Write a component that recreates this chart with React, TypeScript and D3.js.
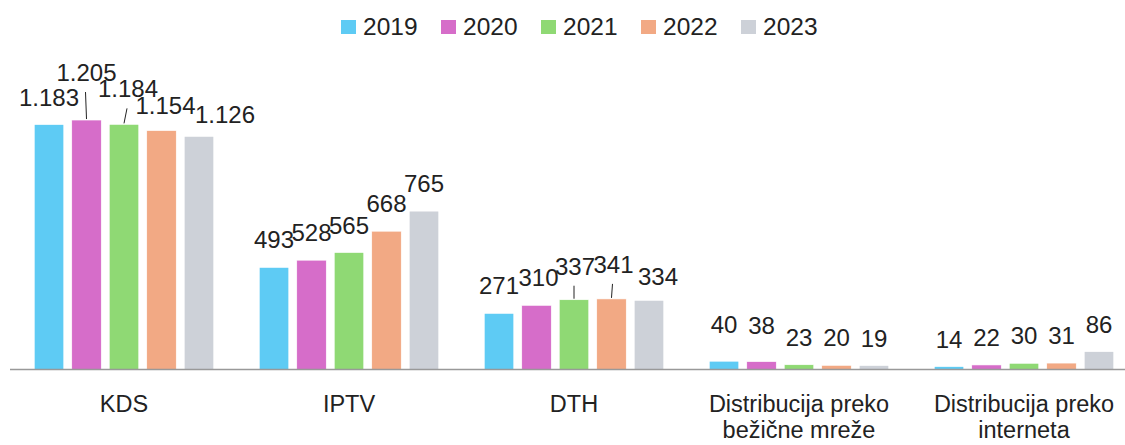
import React from 'react'
import * as d3 from 'd3'

const categories = [
  ['KDS'],
  ['IPTV'],
  ['DTH'],
  ['Distribucija preko', 'bežične mreže'],
  ['Distribucija preko', 'interneta'],
]
const years = ['2019', '2020', '2021', '2022', '2023']
const colors = ['#5ecbf4', '#d66dc9', '#8fd974', '#f2a984', '#cdd1d8']

// values per year, one entry per category
const v2019 = [1183, 493, 271, 40, 14]
const v2020 = [1205, 528, 310, 38, 22]
const v2021 = [1184, 565, 337, 23, 30]
const v2022 = [1154, 668, 341, 20, 31]
const v2023 = [1126, 765, 334, 19, 86]
const series = [v2019, v2020, v2021, v2022, v2023]

// label nudges [category][year] -> [dx, dy, leader]
const nudges: [number, number, boolean][][] = [
  [[0, 0, false], [0, -20, true], [4, -8, true], [4, 2, false], [26, 6, false]],
  [[0, 0, false], [0, 0, false], [0, 0, false], [0, 0, false], [0, 0, false]],
  [[0, 0, false], [2, 0, false], [1, -6, true], [2, -7, true], [9, 4, false]],
  [[0, -9, false], [0, -9, false], [0, 0, false], [0, 0, false], [0, 0, false]],
  [[0, 0, false], [0, 0, false], [0, 0, false], [0, 0, false], [0, 0, false]],
]

const fmt = (v: number) => (v >= 1000 ? d3.format(',')(v).replace(',', '.') : String(v))

export default function App() {
  const W = 1125
  const H = 445
  const base = 369.5
  const font = '"Liberation Sans", Arial, sans-serif'

  const x0 = d3.scaleBand<number>().domain(d3.range(categories.length)).range([11.5, 1136.5])
  const x1 = d3.scaleBand<number>().domain(d3.range(years.length)).range([0, x0.bandwidth()])
    .paddingInner(0.213).paddingOuter(0.607)
  const y = d3.scaleLinear().domain([0, 1210]).range([base, 119])

  return (
    <svg width={W} height={H} style={{ position: 'absolute', left: 0, top: 0 }} fontFamily={font}>
      <rect width={W} height={H} fill="#fff" />
      {/* legend */}
      {years.map((yr, i) => (
        <g key={yr} transform={`translate(${341 + i * 100},0)`}>
          <rect x={0} y={20} width={15} height={14} fill={colors[i]} />
          <text x={22} y={35} fontSize={24.5} fill="#222">{yr}</text>
        </g>
      ))}
      {/* bars */}
      {categories.map((_, ci) => (
        <g key={ci} transform={`translate(${x0(ci)},0)`}>
          {series.map((s, si) => (
            <rect key={si} x={x1(si)} y={y(s[ci])} width={x1.bandwidth()} height={base - y(s[ci])}
              fill={colors[si]} stroke="#fff" strokeWidth={0.6} />
          ))}
        </g>
      ))}
      <line x1={10} x2={W} y1={base} y2={base} stroke="#999" strokeWidth={1.5} />
      {/* value labels */}
      {categories.map((_, ci) => series.map((s, si) => {
        const cx = (x0(ci) as number) + (x1(si) as number) + x1.bandwidth() / 2
        const top = y(s[ci])
        const [dx, dy, leader] = nudges[ci][si]
        const lx = cx + dx
        const ly = top - 19 + dy
        return (
          <g key={`${ci}-${si}`}>
            {leader && <line x1={lx - 1} y1={ly + 11} x2={cx} y2={top - 1} stroke="#222" strokeWidth={1} />}
            <text x={lx} y={ly} fontSize={24} textAnchor="middle" fill="#222">{fmt(s[ci])}</text>
          </g>
        )
      }))}
      {/* category labels */}
      {categories.map((lines, ci) => (
        <text key={ci} x={(x0(ci) as number) + x0.bandwidth() / 2} y={412} fontSize={23.5}
          textAnchor="middle" fill="#222">
          {lines.map((l, li) => (
            <tspan key={li} x={(x0(ci) as number) + x0.bandwidth() / 2} dy={li === 0 ? 0 : 26}>{l}</tspan>
          ))}
        </text>
      ))}
    </svg>
  )
}
